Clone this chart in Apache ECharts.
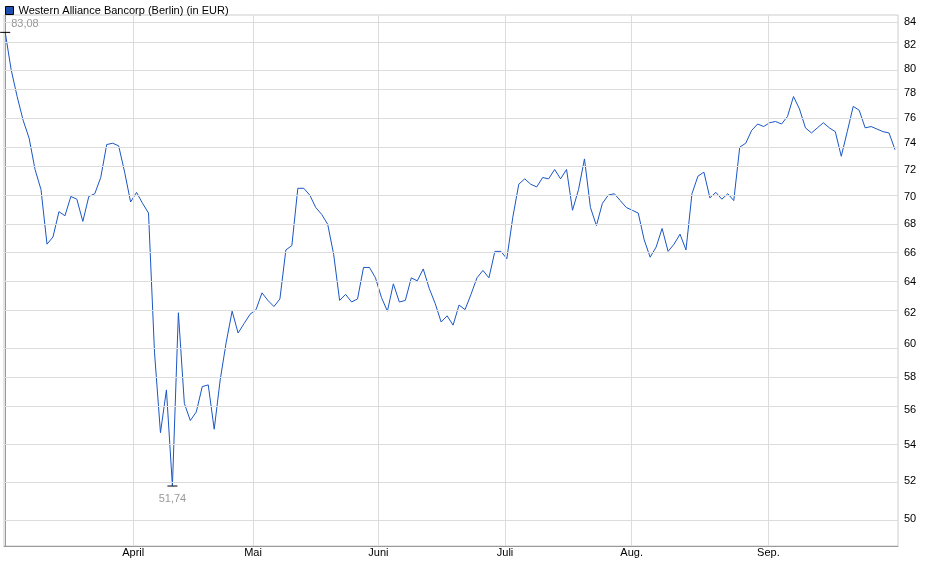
<!DOCTYPE html>
<html><head><meta charset="utf-8">
<script src="https://cdn.jsdelivr.net/npm/echarts@6/dist/echarts.min.js"></script>
<style>html,body{margin:0;padding:0;background:#fff}#c{width:940px;height:579px}</style>
</head><body><div id="c"></div>
<script>
const seriesName = 'Western Alliance Bancorp (Berlin) (in EUR)';
const prices = [83.08,79.9,77.7,75.8,74.4,72.0,70.5,66.6,67.1,68.9,68.6,70.0,69.8,68.2,70.0,70.2,71.4,73.9,74.0,73.8,71.8,69.6,70.3,69.5,68.8,
59.5,54.7,57.2,51.74,62.0,56.4,55.4,55.9,57.4,57.5,54.9,57.8,60.1,62.1,60.7,61.3,61.9,62.2,63.3,
62.8,62.4,62.9,66.2,66.5,70.6,70.6,70.1,69.2,68.7,68.0,65.9,62.8,63.2,62.7,62.9,65.0,65.0,64.3,63.0,
62.1,63.9,62.7,62.8,64.3,64.1,64.9,63.6,62.6,61.4,61.8,61.2,62.5,62.2,63.2,64.3,64.8,64.3,66.1,66.1,65.6,
68.5,70.9,71.3,70.9,70.7,71.4,71.3,72.0,71.3,72.0,69.0,70.5,72.8,69.2,67.9,69.5,70.1,70.2,69.7,69.2,69.0,
68.8,66.9,65.7,66.4,67.7,66.1,66.6,67.3,66.2,70.2,71.5,71.8,69.9,70.3,69.8,70.2,69.7,73.7,74.0,75.0,75.5,75.3,75.6,
75.7,75.5,76.1,77.7,76.7,75.2,74.8,75.2,75.6,75.2,74.9,73.0,74.9,76.9,76.6,75.2,75.3,75.1,74.9,74.8,73.5];
const yTicks = [50,52,54,56,58,60,62,64,66,68,70,72,74,76,78,80,82,84];
const monthNames = ['April','Mai','Juni','Juli','Aug.','Sep.'];
const monthPos = [21.44,41.5,62.5,83.7,104.9,127.8];
const highIdx = 0, lowIdx = 28;

const data = prices.map((v,i)=>[i, Math.log(v)]);
const fmtNum = v => v.toFixed(2).replace('.', ',');
const chart = echarts.init(document.getElementById('c'));
chart.setOption({
  animation:false,
  legend:{left:0,top:0,itemWidth:8,itemHeight:8,icon:'rect',itemGap:4,
    textStyle:{fontFamily:'Arial, Liberation Sans',fontSize:11,color:'#000'},
    data:[{name:seriesName,itemStyle:{color:'#1a4fb0',borderColor:'#000',borderWidth:1}}]},
  grid:{left:4,right:42,top:15,bottom:33,show:true,borderColor:'#ccc',borderWidth:1},
  xAxis:{type:'value',min:-0.2,max:149.5,
    splitLine:{show:false},axisLine:{show:true,lineStyle:{color:'#999'}},
    axisTick:{show:false},
    axisLabel:{customValues:monthPos,formatter:v=>{const k=monthPos.findIndex(p=>Math.abs(p-v)<0.01);return k>=0?monthNames[k]:'';},
      fontFamily:'Arial, Liberation Sans',fontSize:11,color:'#000',margin:1}},
  yAxis:{type:'value',position:'right',min:Math.log(48.6),max:Math.log(84.6),
    splitLine:{show:false},axisLine:{show:true,lineStyle:{color:'#999'}},
    axisTick:{show:false},
    axisLabel:{customValues:yTicks.map(Math.log),formatter:v=>String(Math.round(Math.exp(v))),
      fontFamily:'Arial, Liberation Sans',fontSize:11,color:'#000',margin:6}},
  series:[{name:seriesName,type:'line',data:data,showSymbol:false,
    lineStyle:{color:'#1a56c4',width:1},itemStyle:{color:'#1a4fb0'},
    markLine:{silent:true,symbol:'none',label:{show:false},lineStyle:{color:'#dcdcdc',width:1,type:'solid'},
      data:[...yTicks.map(t=>({yAxis:Math.log(t)})),...monthPos.map(p=>({xAxis:p}))]},
    markPoint:{symbol:'rect',symbolSize:[10,1],itemStyle:{color:'#000'},
      data:[
        {coord:[highIdx,Math.log(prices[highIdx])],label:{show:true,formatter:fmtNum(prices[highIdx]),position:'right',color:'#999',fontSize:11,fontFamily:'Arial, Liberation Sans',offset:[-4,-8]}},
        {coord:[lowIdx,Math.log(prices[lowIdx])],label:{show:true,formatter:fmtNum(prices[lowIdx]),position:'bottom',color:'#999',fontSize:11,fontFamily:'Arial, Liberation Sans',offset:[0,2]}}
      ]}
  }]
});
</script></body></html>
